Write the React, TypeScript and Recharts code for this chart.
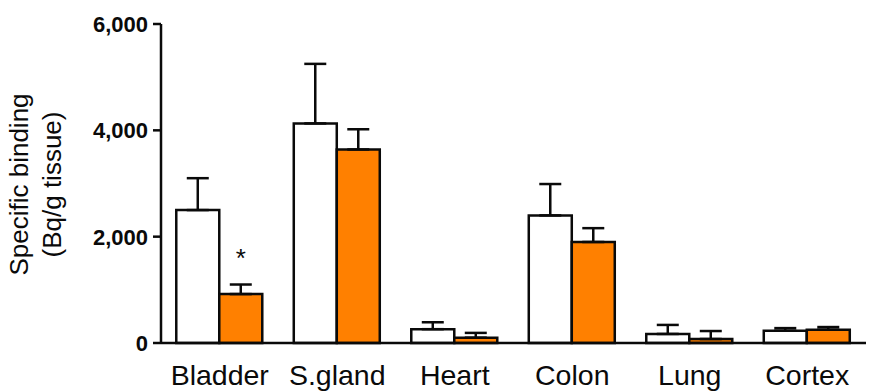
import { BarChart, Bar, XAxis, YAxis, ErrorBar, LabelList } from "recharts";

const tissues = ["Bladder", "S.gland", "Heart", "Colon", "Lung", "Cortex"];
const controlValues = [2500, 4130, 260, 2400, 170, 230];
const controlErrors = [600, 1120, 130, 590, 170, 50];
const treatedValues = [920, 3640, 100, 1900, 75, 250];
const treatedErrors = [180, 380, 90, 260, 150, 50];
const significance = ["*", "", "", "", "", ""];
const yTicks = [0, 2000, 4000, 6000];

const data = tissues.map((name, i) => ({
  name,
  control: controlValues[i],
  controlErr: [0, controlErrors[i]],
  treated: treatedValues[i],
  treatedErr: [0, treatedErrors[i]],
  sig: significance[i],
}));

const font = '"Liberation Sans", Arial, sans-serif';
const ink = "#0a0a0a";

function XTick({ x, y, payload }: any) {
  return (
    <text x={x} y={y + 42} textAnchor="middle" fontSize={28.5} fontFamily={font} fill={ink}>
      {payload.value}
    </text>
  );
}

function YTick({ x, y, payload }: any) {
  return (
    <text x={x} y={y + 8} textAnchor="end" fontSize={22} fontWeight="bold" fontFamily={font} fill={ink}>
      {payload.value.toLocaleString("en-US")}
    </text>
  );
}

function YLabel({ viewBox }: any) {
  const cy = viewBox.y + viewBox.height / 2 + 1;
  const line = (bx: number, s: string) => (
    <text
      x={bx}
      y={cy}
      transform={`rotate(-90, ${bx}, ${cy})`}
      textAnchor="middle"
      fontSize={26}
      fontFamily={font}
      fill={ink}
    >
      {s}
    </text>
  );
  return (
    <g>
      {line(28, "Specific binding")}
      {line(61, "(Bq/g tissue)")}
    </g>
  );
}

export default function App() {
  return (
    <div style={{ position: "absolute", left: 0, top: 0, background: "#fff" }}>
      <BarChart
        width={870}
        height={391}
        data={data}
        margin={{ top: 24, right: 4, left: 61, bottom: 7 }}
        barCategoryGap="13%"
        barGap={0}
      >
        <XAxis
          dataKey="name"
          height={41}
          tickLine={false}
          tickSize={0}
          tickMargin={0}
          axisLine={{ stroke: ink, strokeWidth: 2.5 }}
          tick={<XTick />}
          interval={0}
        />
        <YAxis
          width={100}
          domain={[0, 6000]}
          ticks={yTicks}
          axisLine={{ stroke: ink, strokeWidth: 2.5 }}
          tickLine={{ stroke: ink, strokeWidth: 2.5 }}
          tickSize={8}
          tickMargin={5}
          tick={<YTick />}
          label={<YLabel />}
        />
        <Bar dataKey="control" fill="#ffffff" stroke={ink} strokeWidth={2.5} isAnimationActive={false}>
          <ErrorBar dataKey="controlErr" direction="y" width={11} stroke={ink} strokeWidth={2.5} />
        </Bar>
        <Bar dataKey="treated" fill="#ff8000" stroke={ink} strokeWidth={2.5} isAnimationActive={false}>
          <ErrorBar dataKey="treatedErr" direction="y" width={11} stroke={ink} strokeWidth={2.5} />
          <LabelList dataKey="sig" position="top" offset={27} fontSize={26} fill={ink} fontFamily={font} />
        </Bar>
      </BarChart>
    </div>
  );
}
